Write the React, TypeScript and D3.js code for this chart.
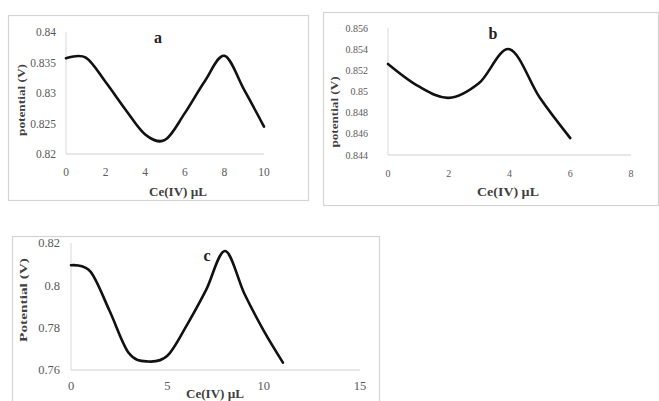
import React from 'react'
import * as d3 from 'd3'

// panel a
const aVolume = [0, 1, 2, 3, 4, 5, 6, 7, 8, 9, 10]
const aPotential = [0.8357, 0.8358, 0.8318, 0.8273, 0.8232, 0.8223, 0.8267, 0.8319, 0.8361, 0.8305, 0.8245]
const aYTicks = [0.82, 0.825, 0.83, 0.835, 0.84]
const aXTicks = [0, 2, 4, 6, 8, 10]

// panel b
const bVolume = [0, 1, 2, 3, 4, 5, 6]
const bPotential = [0.8526, 0.8505, 0.8494, 0.8508, 0.854, 0.8494, 0.8456]
const bYTicks = [0.844, 0.846, 0.848, 0.85, 0.852, 0.854, 0.856]
const bXTicks = [0, 2, 4, 6, 8]

// panel c
const cVolume = [0, 1, 2, 3, 4, 5, 6, 7, 8, 9, 10, 11]
const cPotential = [0.8095, 0.8066, 0.788, 0.768, 0.764, 0.7667, 0.781, 0.7976, 0.8162, 0.796, 0.7786, 0.7635]
const cYTicks = [0.76, 0.78, 0.8, 0.82]
const cXTicks = [0, 5, 10, 15]

const FONT = '"Liberation Serif", "Times New Roman", serif'

type PanelProps = {
    box: [number, number, number, number]
    left: number
    right: number
    top: number
    bottom: number
    xDomain: [number, number]
    yDomain: [number, number]
    xTicks: number[]
    yTicks: number[]
    xs: number[]
    ys: number[]
    letter: string
    letterPos: [number, number]
    yTitle: string
    yTitlePos: [number, number]
    yTitleLen: number
    xTitlePos: [number, number]
    xTitleLen: number
    xTickY: number
    tickPad: number
    tickSize: number
}

const Panel = (props: PanelProps) => {
    const { box, left, right, top, bottom, xDomain, yDomain, xTicks, yTicks, xs, ys, tickSize } = props

    const x = d3.scaleLinear().domain(xDomain).range([left, right])
    const y = d3.scaleLinear().domain(yDomain).range([bottom, top])

    const line = d3.line<number>()
        .x((_, i) => x(xs[i]))
        .y(d => y(d))
        .curve(d3.curveCatmullRom.alpha(0))

    return (
        <g fontFamily={FONT}>
            <rect x={box[0] + 0.5} y={box[1] + 0.5} width={box[2]} height={box[3]}
                fill="#fff" stroke="#d4d4d4" strokeWidth={1.2} />
            <line x1={left} x2={left} y1={top} y2={bottom} stroke="#d9d9d9" strokeWidth={1} />
            <line x1={left} x2={right} y1={bottom} y2={bottom} stroke="#d0d0d0" strokeWidth={1.2} />
            {yTicks.map(t => (
                <text key={t} x={left - props.tickPad} y={y(t)} dy="0.35em" textAnchor="end"
                    fontSize={tickSize} fill="#595959">{String(t)}</text>
            ))}
            {xTicks.map(t => (
                <text key={t} x={x(t)} y={props.xTickY} dy="0.35em" textAnchor="middle"
                    fontSize={tickSize} fill="#595959">{String(t)}</text>
            ))}
            <path d={line(ys) || ''} fill="none" stroke="#111" strokeWidth={2.6}
                strokeLinejoin="round" strokeLinecap="round" />
            <text x={props.letterPos[0]} y={props.letterPos[1]} dy="0.35em" textAnchor="middle"
                fontSize={16} fontWeight="bold" fill="#222">{props.letter}</text>
            <text x={props.xTitlePos[0]} y={props.xTitlePos[1]} dy="0.35em" textAnchor="middle"
                fontSize={12} fontWeight="bold" fill="#404040"
                textLength={props.xTitleLen} lengthAdjust="spacingAndGlyphs">Ce(IV) µL</text>
            <text transform={`translate(${props.yTitlePos[0]},${props.yTitlePos[1]}) rotate(-90)`}
                dy="0.35em" textAnchor="middle" fontSize={11} fontWeight="bold" fill="#404040"
                textLength={props.yTitleLen} lengthAdjust="spacingAndGlyphs">
                {props.yTitle}
            </text>
        </g>
    )
}

const App = () => {
    return (
        <svg width={659} height={401} style={{ position: 'absolute', left: 0, top: 0 }}>
            <rect width={659} height={401} fill="#fff" />
            <Panel box={[8, 15, 300, 185]} left={66} right={264} top={32} bottom={154}
                xDomain={[0, 10]} yDomain={[0.82, 0.84]} xTicks={aXTicks} yTicks={aYTicks}
                xs={aVolume} ys={aPotential} letter="a" letterPos={[158, 37]}
                yTitle="potential (V)" yTitlePos={[21, 100]} yTitleLen={72}
                xTitlePos={[178, 192]} xTitleLen={58} xTickY={172} tickPad={10} tickSize={11.5} />
            <Panel box={[323, 12, 335, 193]} left={388} right={631} top={28} bottom={155}
                xDomain={[0, 8]} yDomain={[0.844, 0.856]} xTicks={bXTicks} yTicks={bYTicks}
                xs={bVolume} ys={bPotential} letter="b" letterPos={[493, 33]}
                yTitle="potential (V)" yTitlePos={[334, 112]} yTitleLen={71}
                xTitlePos={[508, 192]} xTitleLen={62} xTickY={173} tickPad={20} tickSize={10} />
            <Panel box={[12, 236, 367, 180]} left={71} right={360} top={243} bottom={370}
                xDomain={[0, 15]} yDomain={[0.76, 0.82]} xTicks={cXTicks} yTicks={cYTicks}
                xs={cVolume} ys={cPotential} letter="c" letterPos={[207, 255]}
                yTitle="Potential (V)" yTitlePos={[23, 300]} yTitleLen={84}
                xTitlePos={[215, 394]} xTitleLen={58} xTickY={386} tickPad={11} tickSize={12.5} />
        </svg>
    )
}

export default App
